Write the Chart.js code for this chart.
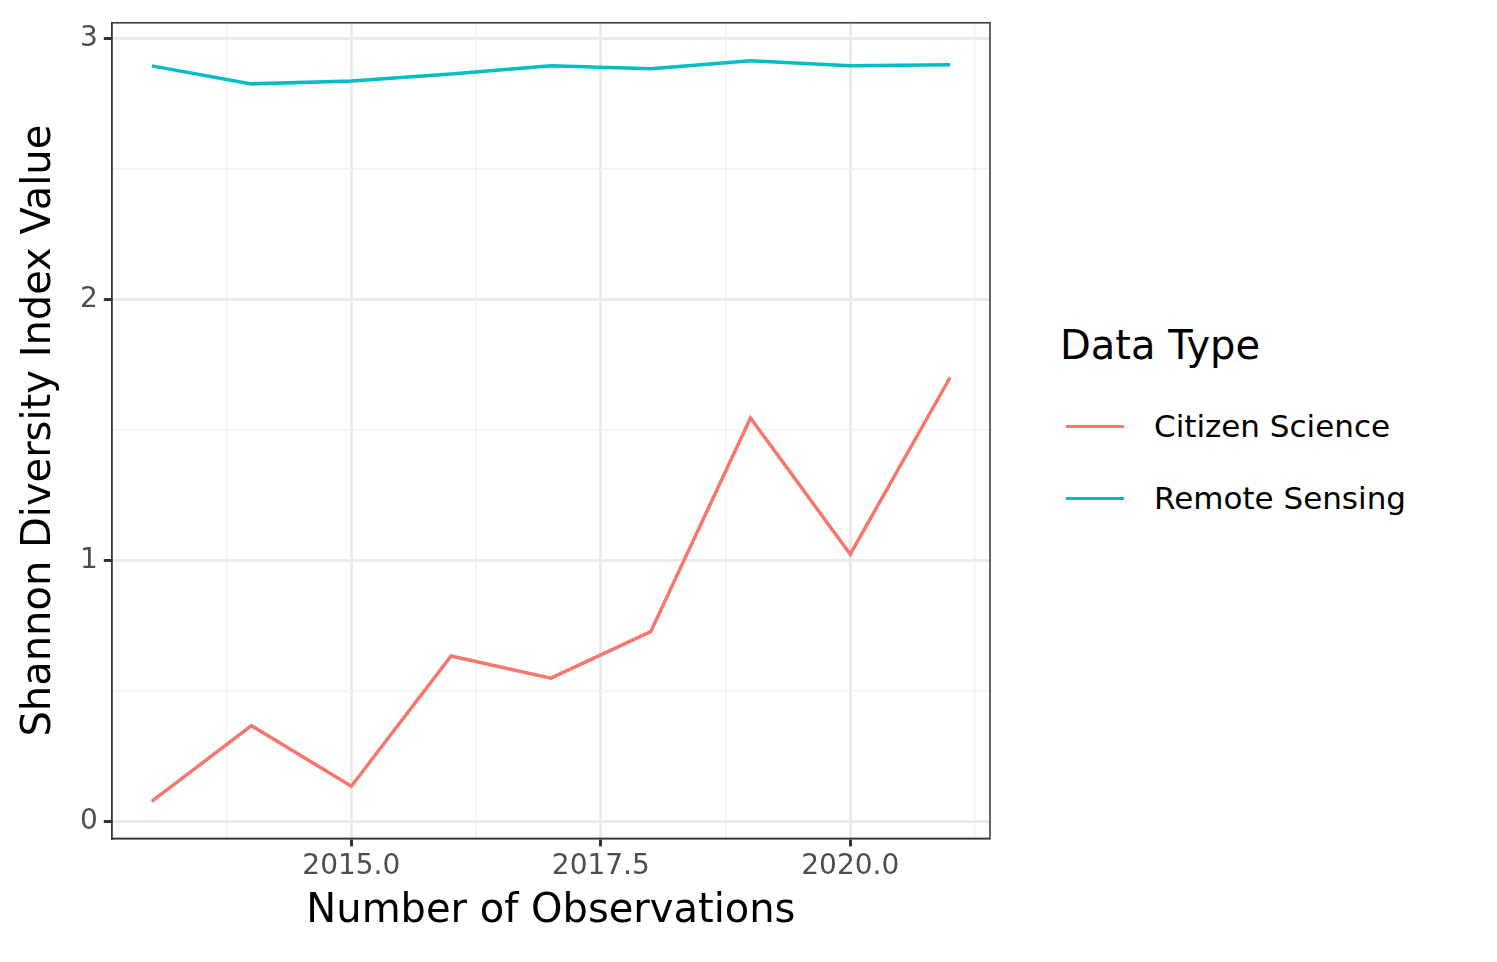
<!DOCTYPE html>
<html><head><meta charset="utf-8">
<script src="https://cdn.jsdelivr.net/npm/chart.js@4"></script>
<style>
body{margin:0;background:#fff;font-family:"DejaVu Sans",sans-serif;}
#wrap{position:absolute;left:0;top:0;width:1000px;height:962px;}
#legend{position:absolute;left:1060px;top:322px;color:#000;}
#legend .t{font-size:40px;margin-bottom:22px;}
#legend .r{font-size:31px;height:72px;display:flex;align-items:center;}
#legend .k{width:58px;height:3px;margin:0 30px 0 6px;}
</style></head><body>
<div id="wrap"><canvas id="c"></canvas></div>
<div id="legend"><div class="t">Data Type</div>
<div class="r"><span class="k" style="background:#F8766D"></span>Citizen Science</div>
<div class="r"><span class="k" style="background:#00BFC4"></span>Remote Sensing</div></div>
<script>
const years = [2013, 2014, 2015, 2016, 2017, 2018, 2019, 2020, 2021];
const citizenScience = [0.077, 0.367, 0.135, 0.634, 0.549, 0.727, 1.546, 1.024, 1.701];
const remoteSensing = [2.895, 2.826, 2.837, 2.864, 2.895, 2.884, 2.915, 2.895, 2.899];
const xMajor = [2015, 2017.5, 2020];
const xMinor = [2013.75, 2016.25, 2018.75, 2021.25];
const yMajor = [0, 1, 2, 3];
const yMinor = [0.5, 1.5, 2.5];

Chart.defaults.font.family = '"DejaVu Sans", sans-serif';

const isMajor = (list, v) => list.some(m => Math.abs(m - v) < 1e-6);
function axisTicks(major, minor) {
    return axis => { axis.ticks = [...major, ...minor].sort((a, b) => a - b).map(v => ({ value: v })); };
}

new Chart(document.getElementById('c'), {
    type: 'line',
    data: {
        datasets: [
            { label: 'Citizen Science', data: years.map((y, i) => ({ x: y, y: citizenScience[i] })), borderColor: '#F8766D', borderWidth: 3.5, pointRadius: 0, tension: 0 },
            { label: 'Remote Sensing', data: years.map((y, i) => ({ x: y, y: remoteSensing[i] })), borderColor: '#00BFC4', borderWidth: 3.5, pointRadius: 0, tension: 0 }
        ]
    },
    options: {
        responsive: true, maintainAspectRatio: false, animation: false,
        layout: { padding: { top: 22, right: 10, left: 12, bottom: 22 } },
        plugins: { legend: { display: false }, tooltip: { enabled: false } },
        scales: {
            x: {
                type: 'linear', min: 2012.6, max: 2021.4,
                afterBuildTicks: axisTicks(xMajor, xMinor),
                border: { color: '#333', width: 1.5 },
                grid: {
                    color: c => isMajor(xMajor, c.tick.value) ? '#ebebeb' : '#f2f2f2',
                    lineWidth: c => isMajor(xMajor, c.tick.value) ? 3 : 1.5,
                    tickColor: c => isMajor(xMajor, c.tick.value) ? '#333' : 'rgba(0,0,0,0)',
                    tickLength: 8
                },
                ticks: { autoSkip: false, maxRotation: 0, color: '#4d4d4d', font: { size: 28 }, padding: 4,
                    callback: v => isMajor(xMajor, v) ? v.toFixed(1) : '' },
                title: { display: true, text: 'Number of Observations', color: '#000', font: { size: 40 }, padding: { top: 0 } }
            },
            y: {
                min: -0.065, max: 3.06,
                afterBuildTicks: axisTicks(yMajor, yMinor),
                border: { color: '#333', width: 1.5 },
                grid: {
                    color: c => isMajor(yMajor, c.tick.value) ? '#ebebeb' : '#f2f2f2',
                    lineWidth: c => isMajor(yMajor, c.tick.value) ? 3 : 1.5,
                    tickColor: c => isMajor(yMajor, c.tick.value) ? '#333' : 'rgba(0,0,0,0)',
                    tickLength: 8
                },
                ticks: { autoSkip: false, color: '#4d4d4d', font: { size: 28 }, padding: 6,
                    callback: v => isMajor(yMajor, v) ? String(v) : '' },
                title: { display: true, text: 'Shannon Diversity Index Value', color: '#000', font: { size: 40 }, padding: { bottom: 10 } }
            }
        }
    },
    plugins: [{
        id: 'frame',
        afterDraw(chart) {
            const { ctx, chartArea: a } = chart;
            ctx.save(); ctx.strokeStyle = '#333'; ctx.lineWidth = 1.5;
            ctx.strokeRect(a.left, a.top, a.right - a.left, a.bottom - a.top);
            ctx.restore();
        }
    }]
});
</script></body></html>
